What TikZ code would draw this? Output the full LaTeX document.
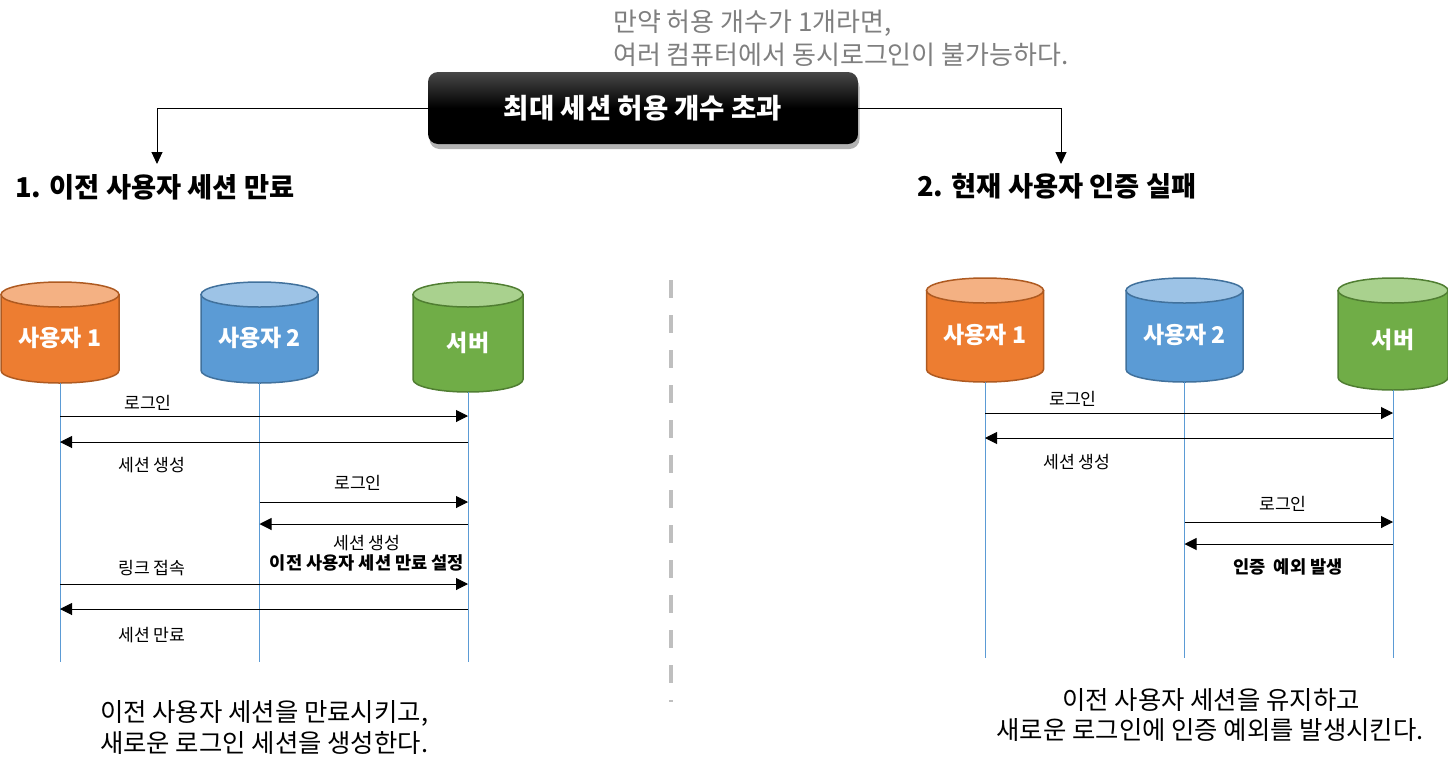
\documentclass[tikz,border=0pt]{standalone}
\usepackage{fontspec}
\setmainfont{Noto Sans CJK KR}
\usetikzlibrary{arrows.meta,shadows}
\definecolor{otop}{RGB}{244,177,131}
\definecolor{obody}{RGB}{237,125,49}
\definecolor{oline}{RGB}{174,90,33}
\definecolor{btop}{RGB}{157,195,230}
\definecolor{bbody}{RGB}{91,155,213}
\definecolor{bline}{RGB}{65,113,156}
\definecolor{gtop}{RGB}{169,209,142}
\definecolor{gbody}{RGB}{112,173,71}
\definecolor{gline}{RGB}{80,126,50}
\definecolor{lifec}{RGB}{91,155,213}
\definecolor{graytxt}{RGB}{127,127,127}
\definecolor{dashc}{RGB}{191,191,191}
\definecolor{boxtop}{RGB}{72,72,72}
\newcommand\mkcyl[8]{%
  \path[fill=#6body, draw=#6line, line width=1.5pt]
    (#2-#3,#4) -- (#2-#3,#5)
    .. controls (#2-#3,#5+6.9) and (#2-0.552*#3,#5+12.5) .. (#2,#5+12.5)
    .. controls (#2+0.552*#3,#5+12.5) and (#2+#3,#5+6.9) .. (#2+#3,#5)
    -- (#2+#3,#4) -- cycle;
  \path[fill=#6top, draw=#6line, line width=1.5pt] (#2,#4) ellipse [x radius=#3, y radius=12.5];
  \node[cyllbl] (#1) at (#2,#8) {#7};
  \coordinate (#1-b) at (#2,#5+12.5);
}
\begin{document}
\begin{tikzpicture}[x=1pt,y=-1pt,
  graytext/.style={text=graytxt, font=\fontsize{26}{30}\selectfont, inner sep=0, anchor=west},
  titlebox/.style={rounded corners=10pt, minimum width=430pt, minimum height=72pt,
     top color=boxtop, bottom color=black, middle color=black, text=white,
     font=\bfseries\fontsize{27.5}{31}\selectfont,
     drop shadow={shadow xshift=1.5pt, shadow yshift=-5pt, fill=black, opacity=0.3}},
  head/.style={font=\bfseries\fontsize{27.3}{31}\selectfont, inner sep=0, anchor=west},
  ctl/.style={draw=black, line width=1pt, -{Triangle[length=12pt,width=11pt]}},
  cyllbl/.style={text=white, font=\bfseries\fontsize{23}{26}\selectfont, inner sep=0},
  life/.style={draw=lifec, line width=0.9pt},
  msg/.style={draw=black, line width=1pt, -{Triangle[length=12pt,width=12pt]}},
  lbl/.style={font=\fontsize{17.2}{20}\selectfont, inner sep=0},
  blbl/.style={font=\bfseries\fontsize{17.6}{20}\selectfont, inner sep=0},
  btxt/.style={font=\fontsize{25.4}{29}\selectfont, inner sep=0},
  dashline/.style={draw=dashc, line width=3.6pt, dash pattern=on 18pt off 17pt}
]
\useasboundingbox (0,0) rectangle (1448,774);

% top note
\node[graytext] (note1) at (613,23) {만약 허용 개수가 1개라면,};
\node[graytext] (note2) at (613,55) {여러 컴퓨터에서 동시로그인이 불가능하다.};

% title box
\node[titlebox] (box) at (643,108) {최대 세션 허용 개수 초과};

% headings
\node[head] (h1) at (15,187) {1. 이전 사용자 세션 만료};
\node[head] (h2) at (917,186) {2. 현재 사용자 인증 실패};
\coordinate (t1) at (157,164);
\coordinate (t2) at (1061,164);
\draw[ctl] (box.west) -| (t1);
\draw[ctl] (box.east) -| (t2);

% divider
\draw[dashline] (671,280) -- (671,702);

% left cylinders
\mkcyl{lu1}{60}{59}{294.5}{370.5}{o}{사용자 1}{338}
\mkcyl{lu2}{259.5}{58.5}{294.5}{370.5}{b}{사용자 2}{338}
\mkcyl{lsv}{468}{55}{294.5}{379.5}{g}{서버}{343}
\coordinate (lu1-e) at (60,662);
\coordinate (lu2-e) at (259.5,662);
\coordinate (lsv-e) at (468,662);
\draw[life] (lu1-b) -- (lu1-e);
\draw[life] (lu2-b) -- (lu2-e);
\draw[life] (lsv-b) -- (lsv-e);

\coordinate (lr1) at (0,416);
\coordinate (lr2) at (0,442);
\coordinate (lr3) at (0,502);
\coordinate (lr4) at (0,524);
\coordinate (lr5) at (0,584);
\coordinate (lr6) at (0,609);
\draw[msg] (lu1-b |- lr1) -- (lsv-b |- lr1);
\draw[msg] (lsv-b |- lr2) -- (lu1-b |- lr2);
\draw[msg] (lu2-b |- lr3) -- (lsv-b |- lr3);
\draw[msg] (lsv-b |- lr4) -- (lu2-b |- lr4);
\draw[msg] (lu1-b |- lr5) -- (lsv-b |- lr5);
\draw[msg] (lsv-b |- lr6) -- (lu1-b |- lr6);

\node[lbl] (ll1) at (148,403) {로그인};
\node[lbl] (ll2) at (152,465) {세션 생성};
\node[lbl] (ll3) at (358,483) {로그인};
\node[lbl] (ll4) at (367,543) {세션 생성};
\node[blbl] (ll5) at (367,563) {이전 사용자 세션 만료 설정};
\node[lbl] (ll6) at (152,568) {링크 접속};
\node[lbl] (ll7) at (152,635) {세션 만료};

\node[btxt, anchor=west] (lb1) at (100,713) {이전 사용자 세션을 만료시키고,};
\node[btxt, anchor=west] (lb2) at (100,743) {새로운 로그인 세션을 생성한다.};

% right cylinders
\mkcyl{ru1}{985}{58.5}{290.5}{369.5}{o}{사용자 1}{335}
\mkcyl{ru2}{1184.5}{58.5}{290.5}{369.5}{b}{사용자 2}{335}
\mkcyl{rsv}{1393}{55}{290.5}{377.5}{g}{서버}{340}
\coordinate (ru1-e) at (985,658);
\coordinate (ru2-e) at (1184.5,658);
\coordinate (rsv-e) at (1393,658);
\draw[life] (ru1-b) -- (ru1-e);
\draw[life] (ru2-b) -- (ru2-e);
\draw[life] (rsv-b) -- (rsv-e);

\coordinate (rr1) at (0,413);
\coordinate (rr2) at (0,438);
\coordinate (rr3) at (0,522);
\coordinate (rr4) at (0,544);
\draw[msg] (ru1-b |- rr1) -- (rsv-b |- rr1);
\draw[msg] (rsv-b |- rr2) -- (ru1-b |- rr2);
\draw[msg] (ru2-b |- rr3) -- (rsv-b |- rr3);
\draw[msg] (rsv-b |- rr4) -- (ru2-b |- rr4);

\node[lbl] (rl1) at (1073,399) {로그인};
\node[lbl] (rl2) at (1077,462) {세션 생성};
\node[lbl] (rl3) at (1283,504) {로그인};
\node[blbl] (rl4) at (1288,567) {인증\ \ 예외 발생};

\node[btxt] (rb1) at (1211,700) {이전 사용자 세션을 유지하고};
\node[btxt] (rb2) at (1210,730) {새로운 로그인에 인증 예외를 발생시킨다.};
\end{tikzpicture}
\end{document}
